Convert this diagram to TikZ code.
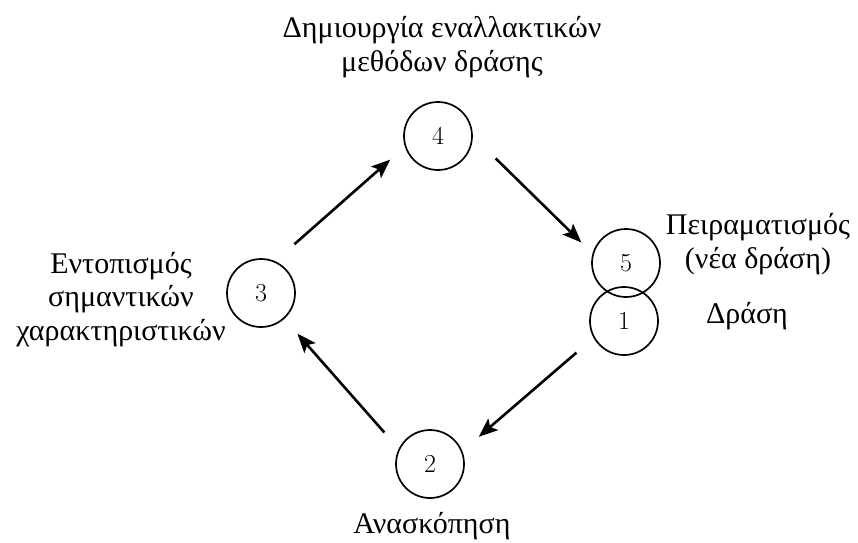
\documentclass[tikz,border=0pt]{standalone}
\usepackage{fontspec}
\setmainfont{Liberation Serif}
\newfontfamily\numfont{Latin Modern Roman}
\usetikzlibrary{arrows.meta}
\tikzset{
  stage/.style={circle, draw, line width=1.7pt, minimum size=68pt, inner sep=0pt,
    font=\numfont\fontsize{26}{30}\selectfont},
  lbl/.style={align=center, anchor=base, inner sep=0pt,
    font=\fontsize{30}{33.5}\selectfont},
  arr/.style={line width=2.6pt, -{Stealth[length=19pt, width=15pt, inset=4pt]}}
}
\begin{document}
\begin{tikzpicture}[x=1pt, y=-1pt]
\useasboundingbox (0,0) rectangle (858,542);
\node[stage] (n4) at (438,136) {4};
\node[stage] (n5) at (626,263) {5};
\node[stage] (n1) at (624,321) {1};
\node[stage] (n3) at (261,293) {3};
\node[stage] (n2) at (430,464) {2};

\node[lbl] (t4) at (442,71) {Δημιουργία εναλλακτικών\\μεθόδων δράσης};
\node[lbl] (t5) at (758,268) {Πειραματισμός\\(νέα δράση)};
\node[lbl] (t1) at (747,323) {Δράση};
\node[lbl] (t3) at (121,340) {Εντοπισμός\\σημαντικών\\χαρακτηριστικών};
\node[lbl] (t2) at (432,533) {Ανασκόπηση};

\draw[arr, shorten <=25.6pt, shorten >=19.4pt] (n3.66) -- (n4.198);
\draw[arr, shorten <=32pt, shorten >=15.6pt] (n4.0) -- (n5.164);
\draw[arr, shorten <=22.6pt, shorten >=21.7pt] (n1.209) -- (n2.22);
\draw[arr, shorten <=21.7pt, shorten >=19.8pt] (n2.154) -- (n3.312);
\end{tikzpicture}
\end{document}
